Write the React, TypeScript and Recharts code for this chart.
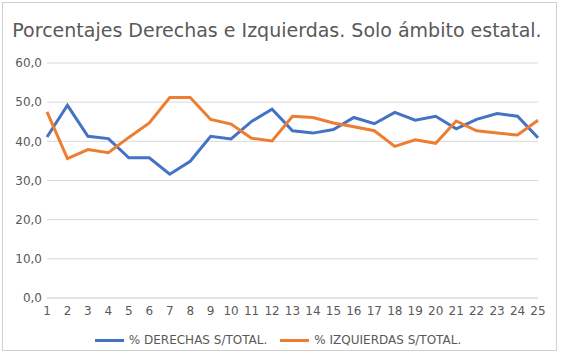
import { CartesianGrid, Line, LineChart, XAxis, YAxis } from 'recharts'

const puntos = ['1', '2', '3', '4', '5', '6', '7', '8', '9', '10', '11', '12', '13', '14', '15', '16', '17', '18', '19', '20', '21', '22', '23', '24', '25']
const derechas = [41.1, 49.2, 41.3, 40.7, 35.8, 35.8, 31.6, 34.9, 41.3, 40.6, 45.1, 48.2, 42.7, 42.1, 43.0, 46.1, 44.5, 47.4, 45.4, 46.4, 43.2, 45.6, 47.1, 46.4, 40.9]
const izquierdas = [47.5, 35.6, 37.9, 37.1, 41.0, 44.7, 51.2, 51.2, 45.6, 44.4, 40.8, 40.1, 46.4, 46.1, 44.7, 43.7, 42.7, 38.7, 40.4, 39.5, 45.2, 42.7, 42.1, 41.6, 45.4]
const yTicks = [0, 10, 20, 30, 40, 50, 60]

const FONT = '"DejaVu Sans", Verdana, sans-serif'
const AXIS_TXT = '#595959'

export default function App() {
  const data = puntos.map((p, i) => ({ p, der: derechas[i], izq: izquierdas[i] }))

  return (
    <div style={{ position: 'absolute', left: 0, top: 0, width: 562, height: 356, background: '#fff', fontFamily: FONT }}>
      <div
        style={{
          position: 'absolute',
          left: 2,
          top: 2,
          width: 555,
          height: 349,
          border: '1px solid #d0d0d0',
          boxSizing: 'border-box',
        }}
      />
      <div
        style={{
          position: 'absolute',
          left: 0,
          top: 19,
          width: 554,
          textAlign: 'center',
          fontSize: 19,
          color: AXIS_TXT,
          whiteSpace: 'nowrap',
        }}
      >
        Porcentajes Derechas e Izquierdas. Solo ámbito estatal.
      </div>
      <LineChart width={562} height={356} data={data} margin={{ top: 63, right: 24, bottom: 38, left: 0 }}>
        <CartesianGrid stroke="#d9d9d9" vertical={false} />
        <XAxis
          dataKey="p"
          interval={0}
          axisLine={{ stroke: '#d9d9d9' }}
          tickLine={false}
          height={20}
          tickMargin={2}
          tick={{ fontSize: 12, fill: AXIS_TXT, fontFamily: FONT }}
        />
        <YAxis
          domain={[0, 60]}
          ticks={yTicks}
          width={47}
          axisLine={false}
          tickLine={false}
          tickSize={3}
          tickMargin={2}
          tickFormatter={(v: number) => v.toFixed(1).replace('.', ',')}
          tick={{ fontSize: 12, fill: AXIS_TXT, fontFamily: FONT }}
        />
        <Line dataKey="der" stroke="#4472C4" strokeWidth={3} dot={false} isAnimationActive={false} />
        <Line dataKey="izq" stroke="#ED7D31" strokeWidth={3} dot={false} isAnimationActive={false} />
      </LineChart>
      <div
        style={{
          position: 'absolute',
          left: 0,
          top: 333,
          width: 556,
          display: 'flex',
          justifyContent: 'center',
          alignItems: 'center',
          gap: 13,
          fontSize: 12,
          color: AXIS_TXT,
        }}
      >
        <span style={{ display: 'flex', alignItems: 'center', gap: 5 }}>
          <span style={{ width: 29, height: 3, background: '#4472C4', display: 'inline-block' }} />
          % DERECHAS S/TOTAL.
        </span>
        <span style={{ display: 'flex', alignItems: 'center', gap: 5 }}>
          <span style={{ width: 29, height: 3, background: '#ED7D31', display: 'inline-block' }} />
          % IZQUIERDAS S/TOTAL.
        </span>
      </div>
    </div>
  )
}
